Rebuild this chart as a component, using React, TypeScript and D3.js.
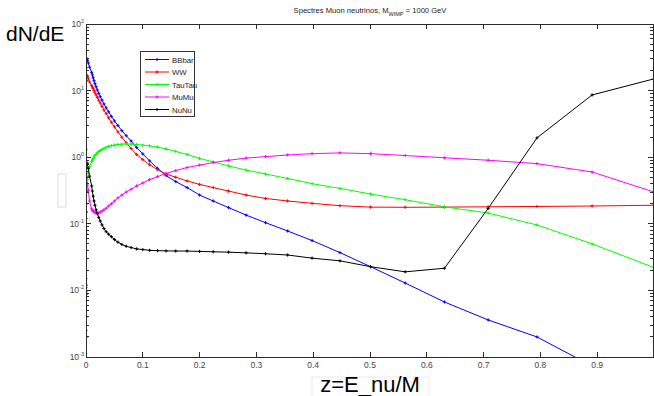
import * as d3 from "d3";

// z = E_nu / M sample points (log spaced, 20 per decade down to 0.01, then coarser)
const zValues = [
  1, 0.891, 0.794, 0.708, 0.631, 0.562, 0.501, 0.447, 0.398, 0.355,
  0.316, 0.282, 0.251, 0.224, 0.2, 0.178, 0.158, 0.141, 0.126, 0.112,
  0.1, 0.0891, 0.0794, 0.0708, 0.0631, 0.0562, 0.0501, 0.0447, 0.0398, 0.0355,
  0.0316, 0.0282, 0.0251, 0.0224, 0.02, 0.0178, 0.0158, 0.0141, 0.0126, 0.0112,
  0.01, 0.0063, 0.004, 0.0025, 0.0016, 0.001, 0.00063, 0.0004, 0.00025, 0.00016,
  0.0001, 0.000063, 0.00004, 0.000025, 0.000016, 0.00001, 0.0000063,
];

const bbbar = [
  0.0002, 0.00073, 0.002, 0.0036, 0.0067, 0.0129, 0.0227, 0.037, 0.056, 0.078,
  0.104, 0.135, 0.175, 0.22, 0.27, 0.35, 0.43, 0.53, 0.68, 0.88,
  1.12, 1.4, 1.75, 2.1, 2.5, 3.0, 3.5, 4.1, 4.8, 5.5,
  6.3, 7.2, 8.1, 9.1, 10.2, 11.4, 12.7, 14.1, 15.6, 17.2,
  18.8, 22.5, 26, 28.5, 30, 30, 28, 22, 14, 7,
  3, 1, 0.3, 0.08, 0.02, 0.004, 0.0008,
];

const ww = [
  0.19, 0.185, 0.182, 0.18, 0.178, 0.177, 0.178, 0.187, 0.203, 0.22,
  0.24, 0.27, 0.31, 0.35, 0.39, 0.44, 0.5, 0.56, 0.65, 0.77,
  0.92, 1.1, 1.35, 1.65, 2.0, 2.4, 2.85, 3.35, 3.9, 4.5,
  5.1, 5.8, 6.5, 7.2, 7.9, 8.6, 9.3, 10.0, 10.7, 11.3,
  11.9, 13.5, 15, 16.3, 17, 16.5, 14, 10, 6, 3,
  1.3, 0.5, 0.15, 0.04, 0.01, 0.0025, 0.0006,
];

const tautau = [
  0.022, 0.05, 0.096, 0.145, 0.18, 0.23, 0.28, 0.34, 0.4, 0.48,
  0.56, 0.64, 0.74, 0.85, 0.96, 1.1, 1.22, 1.33, 1.42, 1.48,
  1.52, 1.55, 1.57, 1.58, 1.57, 1.55, 1.52, 1.49, 1.45, 1.41,
  1.36, 1.31, 1.26, 1.21, 1.16, 1.11, 1.06, 1.01, 0.96, 0.91,
  0.86, 0.72, 0.58, 0.46, 0.38, 0.3, 0.2, 0.12, 0.06, 0.03,
  0.012, 0.005, 0.002, 0.0008, 0.0003, 0.0001, 0.00005,
];

const mumu = [
  0.3, 0.6, 0.8, 0.9, 0.98, 1.06, 1.13, 1.16, 1.13, 1.08,
  1.02, 0.97, 0.9, 0.83, 0.76, 0.7, 0.63, 0.57, 0.51, 0.46,
  0.41, 0.37, 0.33, 0.3, 0.27, 0.245, 0.22, 0.2, 0.185, 0.172,
  0.162, 0.155, 0.15, 0.146, 0.145, 0.146, 0.148, 0.151, 0.155, 0.16,
  0.167, 0.22, 0.32, 0.4, 0.38, 0.3, 0.2, 0.12, 0.06, 0.03,
  0.015, 0.011, 0.0095, 0.009, 0.0088, 0.0087, 0.0087,
];

const nunu = [
  15, 8.6, 1.95, 0.17, 0.0215, 0.019, 0.0227, 0.0278, 0.0305, 0.034,
  0.0355, 0.0366, 0.0375, 0.038, 0.0385, 0.039, 0.039, 0.0392, 0.0395, 0.04,
  0.041, 0.042, 0.044, 0.046, 0.049, 0.053, 0.058, 0.064, 0.07, 0.076,
  0.085, 0.096, 0.11, 0.125, 0.142, 0.162, 0.19, 0.22, 0.26, 0.31,
  0.37, 0.52, 0.68, 0.78, 0.82, 0.8, 0.7, 0.5, 0.3, 0.15,
  0.07, 0.03, 0.012, 0.005, 0.002, 0.0008, 0.0003,
];

const seriesNames = ["BBbar", "WW", "TauTau", "MuMu", "NuNu"];
const seriesColors = ["#0000ff", "#ff0000", "#00ff00", "#ff00ff", "#000000"];
const seriesValues = [bbbar, ww, tautau, mumu, nunu];

const xTicks = [0, 0.1, 0.2, 0.3, 0.4, 0.5, 0.6, 0.7, 0.8, 0.9, 1];
const xTickLabels = ["0", "0.1", "0.2", "0.3", "0.4", "0.5", "0.6", "0.7", "0.8", "0.9", ""];
const yExponents = [-3, -2, -1, 0, 1, 2];

const W = 654;
const H = 396;
const left = 86, right = 654, top = 24, bottom = 357;

export default function App() {
  const x = d3.scaleLinear().domain([0, 1]).range([left, right]);
  const y = d3.scaleLog().domain([1e-3, 1e2]).range([bottom, top]);

  const line = d3
    .line<[number, number]>()
    .x((d) => x(d[0]))
    .y((d) => y(d[1]));

  const minorTicks: number[] = [];
  for (let e = -3; e < 2; e++) {
    for (let m = 2; m <= 9; m++) minorTicks.push(m * Math.pow(10, e));
  }

  const plus = (cx: number, cy: number, s: number) =>
    `M${cx - s},${cy}h${2 * s}M${cx},${cy - s}v${2 * s}`;

  const axisColor = "#2b2b2b";
  const labelColor = "#444";

  return (
    <svg
      width={W}
      height={H}
      style={{ position: "fixed", left: 0, top: 0, background: "#fff" }}
      fontFamily="Liberation Sans, Arial, sans-serif"
    >
      <defs>
        <clipPath id="plotclip">
          <rect x={left} y={top} width={right - left} height={bottom - top} />
        </clipPath>
      </defs>
      <rect x={0} y={0} width={W} height={H} fill="#fff" />

      {/* title */}
      <text x={(left + right) / 2} y={13} fontSize={7.6} textAnchor="middle" fill="#222">
        Spectres Muon neutrinos, M
        <tspan fontSize={5.5} dy={2.5}>WIMP</tspan>
        <tspan dy={-2.5}> = 1000 GeV</tspan>
      </text>

      {/* big axis labels */}
      <text x={6} y={41} fontSize={21} fill="#000">dN/dE</text>
      <rect x={58} y={174} width={8} height={33} fill="#fff" stroke="#dcdcdc" strokeWidth={1} />
      <rect x={312} y={377} width={117} height={22} fill="#fff" stroke="#ececec" strokeWidth={1} />
      <text x={(left + right) / 2} y={392} fontSize={22} textAnchor="middle" fill="#000">
        z=E_nu/M
      </text>

      {/* series */}
      <g clipPath="url(#plotclip)">
        {seriesValues.map((vals, i) => {
          const pts = zValues.map((z, j) => [z, vals[j]] as [number, number]);
          return (
            <g key={seriesNames[i]}>
              <path d={line(pts) ?? ""} fill="none" stroke={seriesColors[i]} strokeWidth={1} />
              <path
                d={pts.map((p) => plus(x(p[0]), y(p[1]), 1.6)).join("")}
                fill="none"
                stroke={seriesColors[i]}
                strokeWidth={1}
              />
            </g>
          );
        })}
      </g>

      {/* frame */}
      <rect
        x={left}
        y={top}
        width={right - left - 1}
        height={bottom - top}
        fill="none"
        stroke={axisColor}
        strokeWidth={1}
        shapeRendering="crispEdges"
      />

      {/* x ticks */}
      {xTicks.map((t, i) => (
        <g key={"xt" + i} shapeRendering="crispEdges">
          <line x1={x(t)} x2={x(t)} y1={bottom} y2={bottom - 5} stroke={axisColor} />
          <line x1={x(t)} x2={x(t)} y1={top} y2={top + 5} stroke={axisColor} />
          <text x={x(t)} y={368} fontSize={8.5} textAnchor="middle" fill={labelColor}>
            {xTickLabels[i]}
          </text>
        </g>
      ))}

      {/* y ticks */}
      {yExponents.map((e) => {
        const py = y(Math.pow(10, e));
        return (
          <g key={"ye" + e}>
            <line x1={left} x2={left + 5} y1={py} y2={py} stroke={axisColor} shapeRendering="crispEdges" />
            <line x1={right - 1} x2={right - 6} y1={py} y2={py} stroke={axisColor} shapeRendering="crispEdges" />
            <text x={84} y={py + 3} fontSize={8.5} textAnchor="end" fill={labelColor}>
              10
              <tspan fontSize={5.5} dy={-4}>{e}</tspan>
            </text>
          </g>
        );
      })}
      {minorTicks.map((v, i) => (
        <g key={"ym" + i} shapeRendering="crispEdges">
          <line x1={left} x2={left + 3} y1={y(v)} y2={y(v)} stroke={axisColor} />
          <line x1={right - 1} x2={right - 4} y1={y(v)} y2={y(v)} stroke={axisColor} />
        </g>
      ))}

      {/* legend */}
      <g>
        <rect x={140.5} y={51.5} width={54} height={65} fill="#fff" stroke="#333" strokeWidth={1} />
        {seriesNames.map((name, i) => {
          const ly = 59.5 + i * 12.5;
          return (
            <g key={"lg" + name}>
              <line x1={145} x2={169} y1={ly} y2={ly} stroke={seriesColors[i]} strokeWidth={1} />
              <path d={plus(157, ly, 1.6)} stroke={seriesColors[i]} strokeWidth={1} />
              <text x={172} y={ly + 3} fontSize={7.8} fill="#222">
                {name}
              </text>
            </g>
          );
        })}
      </g>
    </svg>
  );
}
